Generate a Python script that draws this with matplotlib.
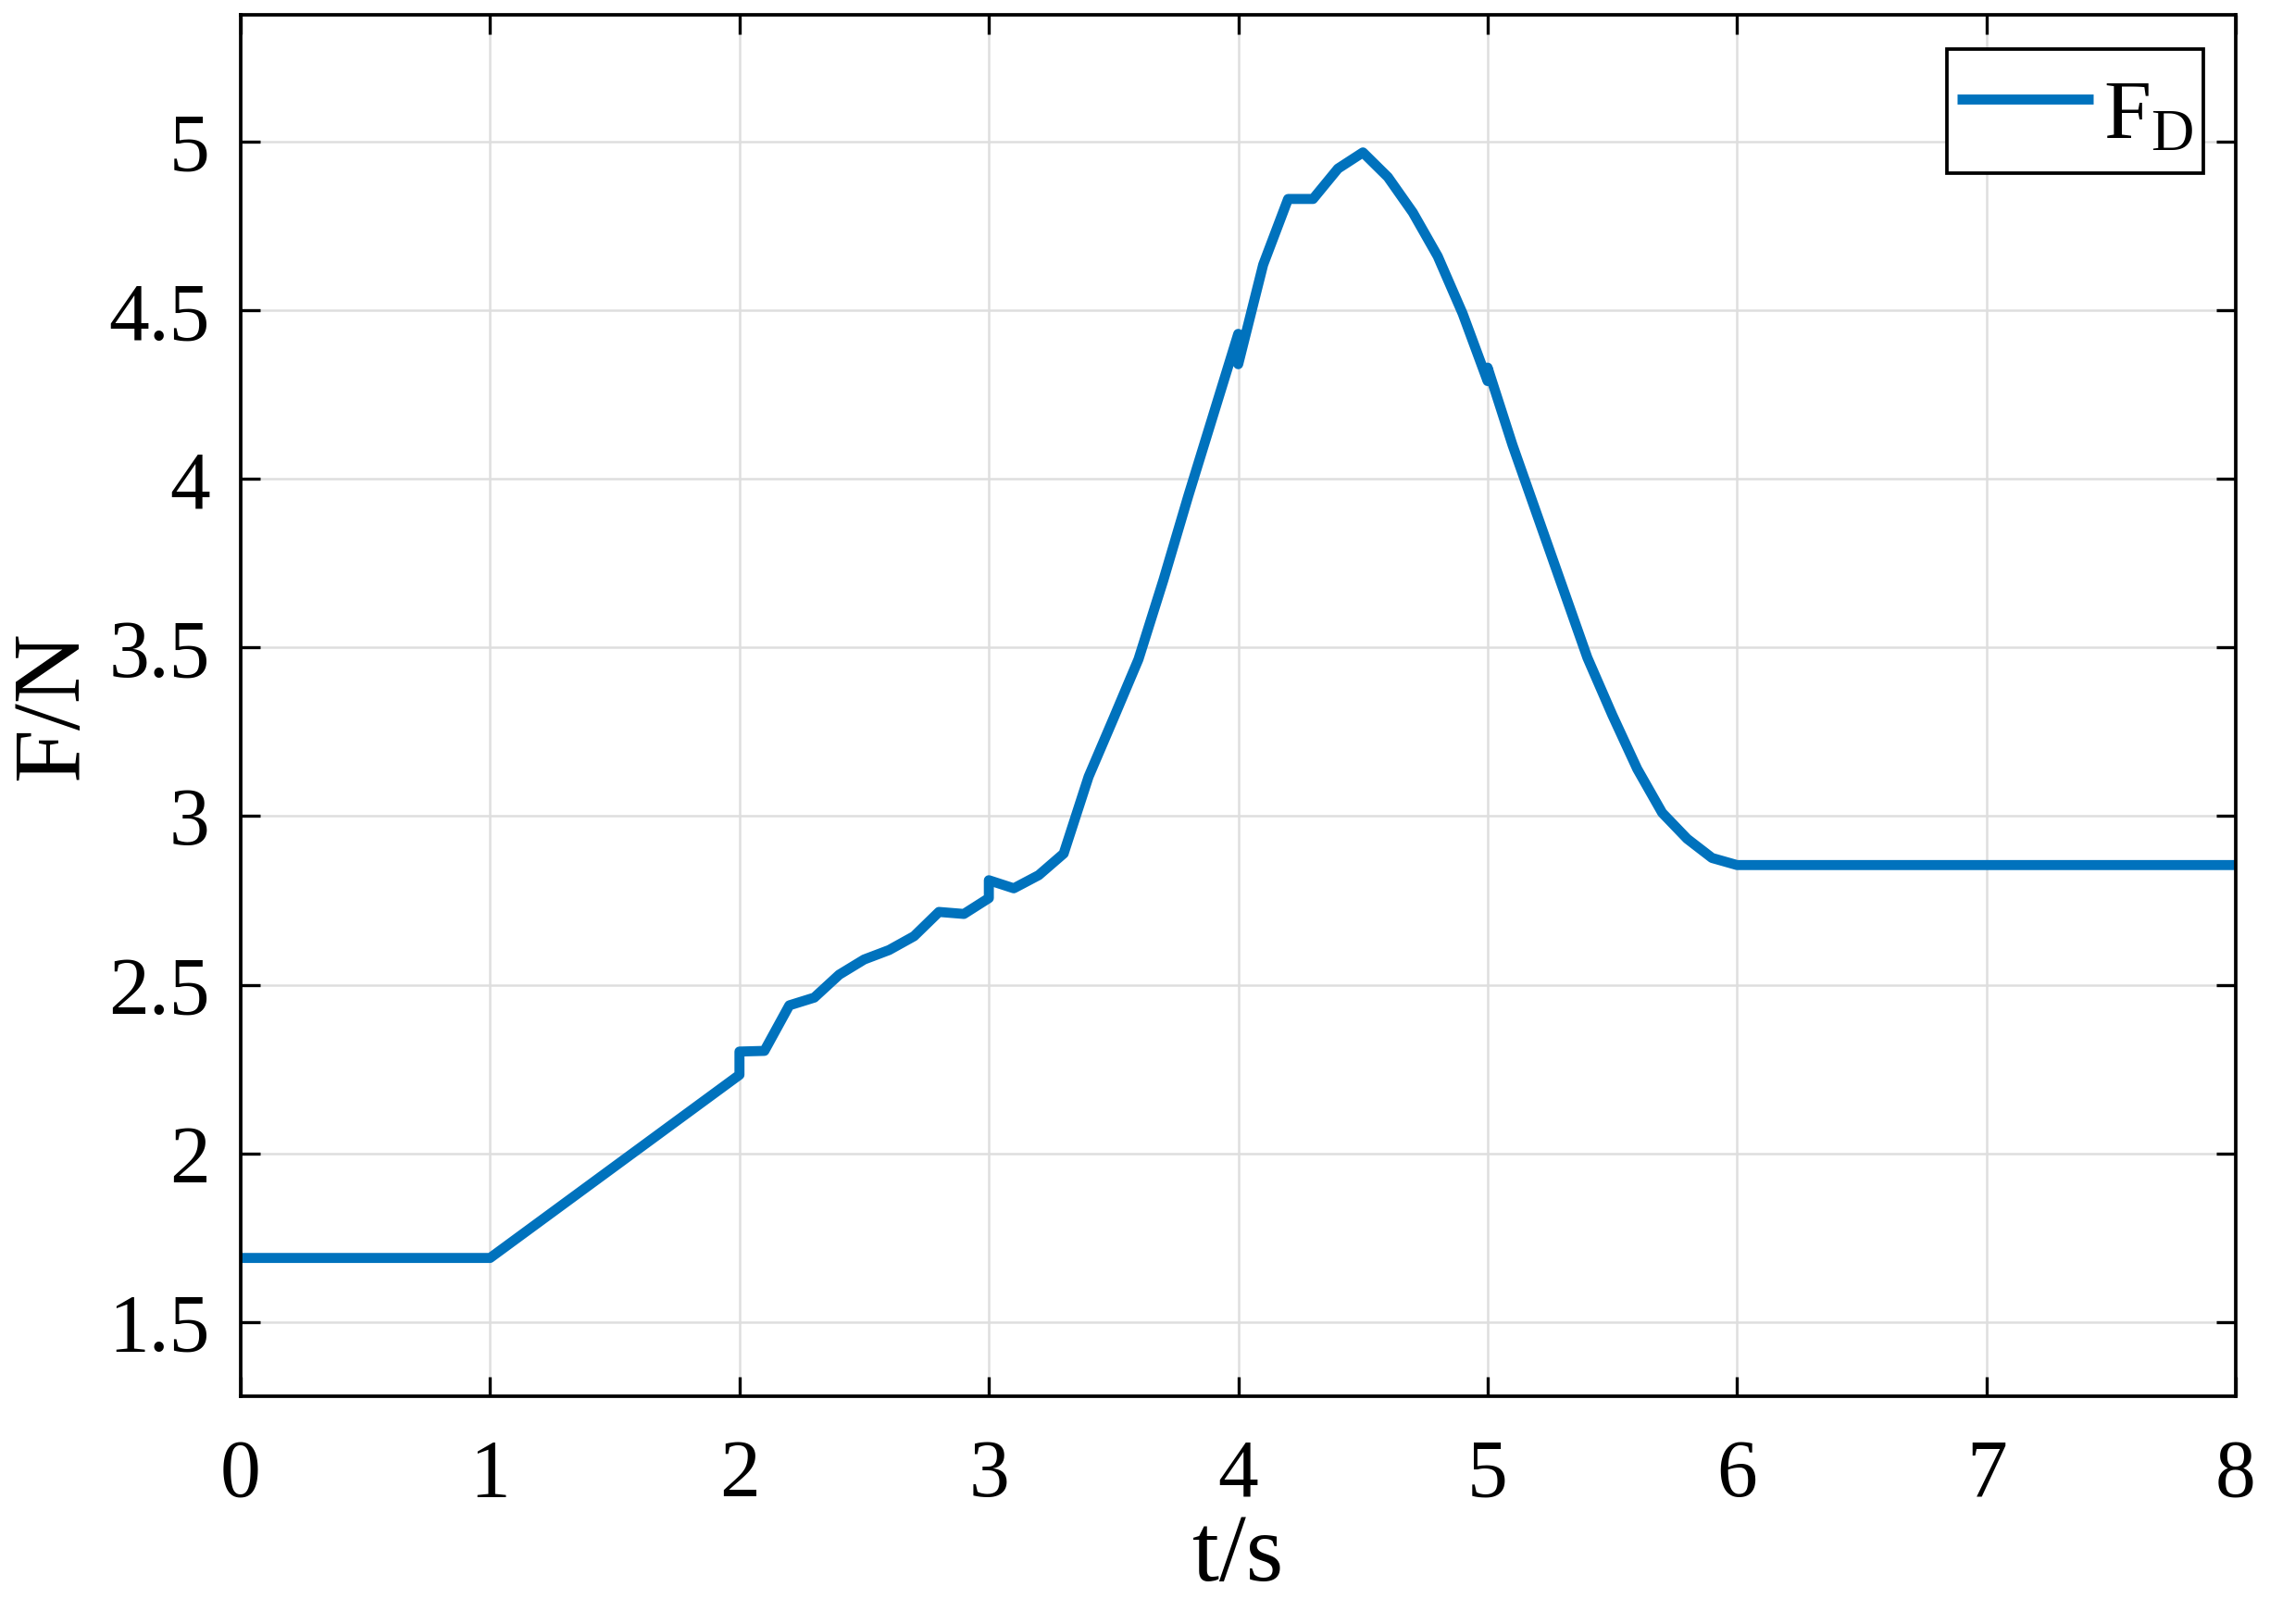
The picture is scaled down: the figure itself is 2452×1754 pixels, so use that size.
import matplotlib
matplotlib.use("Agg")
import matplotlib.pyplot as plt

# ---- data ----
t = [0.0, 1.0, 2.0, 2.0, 2.1, 2.2, 2.3, 2.4, 2.5, 2.6, 2.7, 2.8, 2.9, 3.0, 3.0,
     3.1, 3.2, 3.3, 3.4, 3.5, 3.6, 3.7, 3.8, 3.9, 4.0, 4.0, 4.1, 4.2, 4.3, 4.4,
     4.5, 4.6, 4.7, 4.8, 4.9, 5.0, 5.0, 5.1, 5.2, 5.3, 5.4, 5.5, 5.6, 5.7, 5.8,
     5.9, 6.0, 8.0]
F_D = [1.69, 1.69, 2.233, 2.302, 2.304, 2.439, 2.462, 2.53, 2.575, 2.603, 2.644,
       2.716, 2.71, 2.757, 2.81, 2.786, 2.825, 2.889, 3.117, 3.29, 3.465, 3.70,
       3.95, 4.19, 4.43, 4.34, 4.635, 4.83, 4.83, 4.92, 4.968, 4.895, 4.79, 4.66,
       4.49, 4.29, 4.33, 4.10, 3.89, 3.68, 3.47, 3.30, 3.14, 3.01, 2.933, 2.876,
       2.855, 2.855]
xticks = [0, 1, 2, 3, 4, 5, 6, 7, 8]
yticks = [1.5, 2, 2.5, 3, 3.5, 4, 4.5, 5]
ytick_labels = ["1.5", "2", "2.5", "3", "3.5", "4", "4.5", "5"]

plt.rcParams['font.family'] = ['Liberation Serif', 'DejaVu Serif']
plt.rcParams['mathtext.fontset'] = 'custom'
plt.rcParams['mathtext.rm'] = 'Liberation Serif'
plt.rcParams['mathtext.it'] = 'Liberation Serif:italic'

fig = plt.figure(figsize=(2452 / 300, 1754 / 300), dpi=300)
ax = fig.add_axes([260 / 2452, 1 - 1508 / 1754, (2415 - 260) / 2452, (1508 - 16) / 1754])

ax.plot(t, F_D, color='#0072BD', lw=2.6, label=r'$\mathrm{F_D}$',
        solid_joinstyle='round', solid_capstyle='butt')

ax.set_xlim(0, 8)
ax.set_ylim(1.28, 5.376)
ax.set_xticks(xticks)
ax.set_yticks(yticks)
ax.set_yticklabels(ytick_labels)
ax.grid(True, color='#dedede', lw=0.6)
ax.set_axisbelow(True)
ax.tick_params(direction='in', length=5, width=0.8, top=True, right=True,
               labelsize=21, colors='black')
ax.tick_params(axis='x', pad=11)
ax.tick_params(axis='y', pad=8)
for s in ax.spines.values():
    s.set_linewidth(0.9)
    s.set_color('black')

ax.set_xlabel('t/s', fontsize=25, labelpad=0)
ax.set_ylabel('F/N', fontsize=25, labelpad=3)

leg = ax.legend(loc='upper right', fontsize=22, fancybox=False, framealpha=1,
                edgecolor='black', borderpad=0.12, borderaxespad=0,
                handlelength=1.6, handleheight=1.5, handletextpad=0.12,
                bbox_to_anchor=(1 - 35 / 2155, 1 - 37 / 1492))
leg.get_frame().set_linewidth(0.9)

fig.savefig('out.png', dpi=300, facecolor='white')
